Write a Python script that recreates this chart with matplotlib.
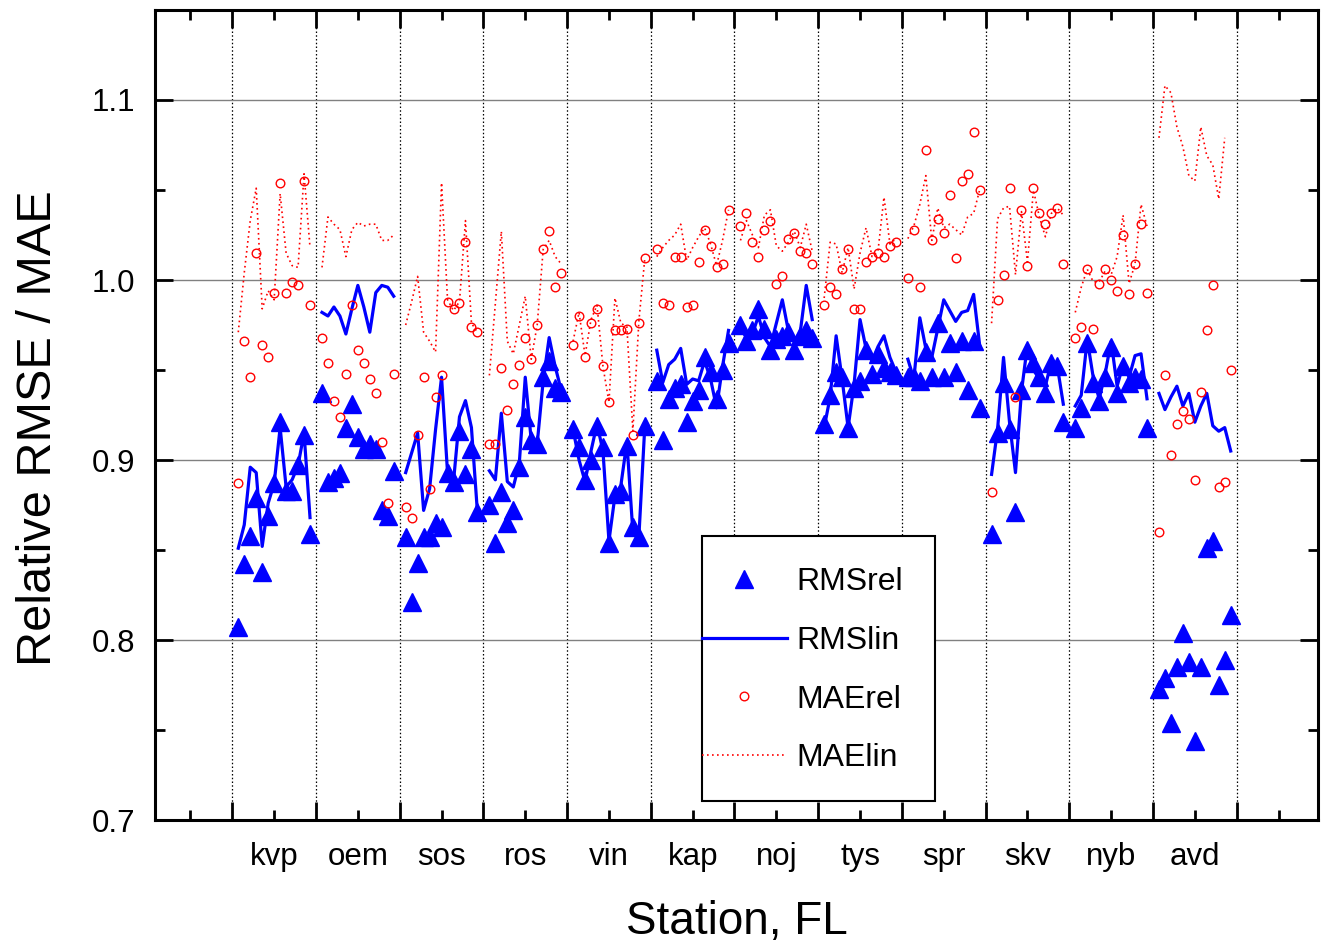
import numpy as np
import matplotlib
matplotlib.use("Agg")
import matplotlib.pyplot as plt
from matplotlib.ticker import FixedLocator, FixedFormatter, NullFormatter, MultipleLocator, FormatStrFormatter
from matplotlib.lines import Line2D
from matplotlib.patches import Rectangle

plt.rcParams['font.family'] = ['Liberation Sans', 'DejaVu Sans']

stations = ['kvp', 'oem', 'sos', 'ros', 'vin', 'kap', 'noj', 'tys', 'spr', 'skv', 'nyb', 'avd']

rms_rel = [
    [0.807, 0.842, 0.858, 0.879, 0.838, 0.869, 0.887, 0.921, 0.883, 0.883, 0.897, 0.914, 0.859],
    [0.937, 0.888, 0.890, 0.893, 0.918, 0.931, 0.913, 0.906, 0.909, 0.906, 0.872, 0.869, 0.894],
    [0.857, 0.821, 0.843, 0.857, 0.857, 0.865, 0.863, 0.893, 0.888, 0.916, 0.892, 0.906, 0.871],
    [0.875, 0.854, 0.882, 0.865, 0.872, 0.896, 0.924, 0.911, 0.909, 0.946, 0.955, 0.940, 0.938],
    [0.917, 0.907, 0.889, 0.900, 0.919, 0.907, 0.854, 0.881, 0.883, 0.908, 0.863, 0.857, 0.919],
    [0.944, 0.911, 0.934, 0.940, 0.942, 0.921, 0.933, 0.939, 0.957, 0.949, 0.934, 0.950, 0.965],
    [0.975, 0.966, 0.972, 0.984, 0.973, 0.961, 0.967, 0.969, 0.971, 0.961, 0.969, 0.972, 0.968],
    [0.920, 0.936, 0.949, 0.946, 0.918, 0.940, 0.944, 0.961, 0.948, 0.959, 0.951, 0.949, 0.947],
    [0.946, 0.946, 0.944, 0.960, 0.946, 0.976, 0.946, 0.965, 0.949, 0.966, 0.939, 0.966, 0.929],
    [0.859, 0.915, 0.943, 0.917, 0.871, 0.939, 0.961, 0.954, 0.946, 0.937, 0.954, 0.952, 0.921],
    [0.918, 0.929, 0.965, 0.943, 0.933, 0.946, 0.963, 0.937, 0.952, 0.943, 0.946, 0.945, 0.918],
    [0.773, 0.779, 0.754, 0.785, 0.804, 0.788, 0.744, 0.785, 0.851, 0.855, 0.775, 0.789, 0.814],
]

rms_lin = [
    [0.851, 0.864, 0.896, 0.893, 0.852, 0.876, 0.887, 0.918, 0.885, 0.889, 0.897, 0.915, 0.868],
    [0.982, 0.980, 0.985, 0.980, 0.970, 0.984, 0.997, 0.985, 0.971, 0.993, 0.997, 0.996, 0.991],
    [0.893, 0.904, 0.915, 0.872, 0.884, 0.917, 0.946, 0.893, 0.888, 0.924, 0.933, 0.918, 0.871],
    [0.894, 0.889, 0.926, 0.888, 0.885, 0.898, 0.946, 0.911, 0.909, 0.944, 0.968, 0.952, 0.939],
    [0.917, 0.900, 0.888, 0.905, 0.920, 0.905, 0.855, 0.880, 0.886, 0.910, 0.860, 0.857, 0.919],
    [0.961, 0.943, 0.953, 0.956, 0.962, 0.942, 0.945, 0.944, 0.955, 0.945, 0.929, 0.952, 0.972],
    [0.973, 0.968, 0.970, 0.980, 0.968, 0.963, 0.976, 0.989, 0.972, 0.966, 0.971, 0.997, 0.978],
    [0.918, 0.935, 0.969, 0.945, 0.918, 0.942, 0.978, 0.962, 0.955, 0.963, 0.969, 0.957, 0.949],
    [0.956, 0.945, 0.979, 0.962, 0.957, 0.973, 0.989, 0.983, 0.977, 0.982, 0.983, 0.992, 0.964],
    [0.892, 0.917, 0.957, 0.921, 0.893, 0.938, 0.964, 0.950, 0.945, 0.941, 0.955, 0.952, 0.931],
    [0.930, 0.936, 0.967, 0.946, 0.934, 0.948, 0.966, 0.941, 0.953, 0.946, 0.958, 0.959, 0.934],
    [0.937, 0.928, 0.935, 0.941, 0.930, 0.937, 0.921, 0.930, 0.937, 0.919, 0.916, 0.918, 0.905],
]

mae_rel = [
    [0.887, 0.966, 0.946, 1.015, 0.964, 0.957, 0.993, 1.054, 0.993, 0.999, 0.997, 1.055, 0.986],
    [0.968, 0.954, 0.933, 0.924, 0.948, 0.986, 0.961, 0.954, 0.945, 0.937, 0.910, 0.876, 0.948],
    [0.874, 0.868, 0.914, 0.946, 0.884, 0.935, 0.947, 0.988, 0.984, 0.987, 1.021, 0.974, 0.971],
    [0.909, 0.909, 0.951, 0.928, 0.942, 0.953, 0.968, 0.956, 0.975, 1.017, 1.027, 0.996, 1.004],
    [0.964, 0.980, 0.957, 0.976, 0.984, 0.952, 0.932, 0.972, 0.972, 0.973, 0.914, 0.976, 1.012],
    [1.017, 0.987, 0.986, 1.013, 1.013, 0.985, 0.986, 1.010, 1.028, 1.019, 1.007, 1.009, 1.039],
    [1.030, 1.037, 1.021, 1.013, 1.028, 1.033, 0.998, 1.002, 1.023, 1.026, 1.016, 1.015, 1.009],
    [0.986, 0.996, 0.992, 1.006, 1.017, 0.984, 0.984, 1.010, 1.013, 1.015, 1.013, 1.019, 1.021],
    [1.001, 1.028, 0.996, 1.072, 1.022, 1.034, 1.026, 1.047, 1.012, 1.055, 1.059, 1.082, 1.050],
    [0.882, 0.989, 1.003, 1.051, 0.935, 1.039, 1.008, 1.051, 1.037, 1.031, 1.037, 1.040, 1.009],
    [0.968, 0.974, 1.006, 0.973, 0.998, 1.006, 1.000, 0.994, 1.025, 0.992, 1.009, 1.031, 0.993],
    [0.860, 0.947, 0.903, 0.920, 0.927, 0.923, 0.889, 0.938, 0.972, 0.997, 0.885, 0.888, 0.950],
]

mae_lin = [
    [0.971, 1.004, 1.033, 1.051, 0.984, 0.994, 0.989, 1.048, 1.015, 1.008, 1.007, 1.059, 1.018],
    [1.007, 1.035, 1.031, 1.028, 1.013, 1.028, 1.032, 1.030, 1.031, 1.031, 1.022, 1.022, 1.025],
    [0.975, 0.988, 1.002, 0.971, 0.966, 0.960, 1.054, 0.989, 0.983, 0.988, 1.033, 0.976, 0.971],
    [0.947, 0.987, 1.027, 0.966, 0.959, 0.975, 0.991, 0.956, 0.975, 1.017, 1.022, 1.013, 1.009],
    [0.966, 0.982, 0.958, 0.978, 0.986, 0.952, 0.932, 0.990, 0.976, 0.974, 0.916, 0.977, 1.012],
    [1.013, 1.018, 1.022, 1.025, 1.031, 1.011, 1.018, 1.024, 1.029, 1.020, 1.008, 1.022, 1.039],
    [1.022, 1.033, 1.025, 1.018, 1.036, 1.039, 1.019, 1.016, 1.021, 1.027, 1.018, 1.031, 1.016],
    [0.990, 1.021, 1.020, 1.004, 1.018, 0.995, 1.015, 1.029, 1.013, 1.016, 1.046, 1.020, 1.023],
    [1.023, 1.030, 1.042, 1.058, 1.022, 1.040, 1.029, 1.031, 1.028, 1.025, 1.035, 1.037, 1.050],
    [0.976, 1.034, 1.040, 1.041, 1.003, 1.038, 1.010, 1.050, 1.035, 1.024, 1.037, 1.040, 1.036],
    [0.982, 0.996, 1.006, 0.999, 0.999, 1.005, 1.003, 1.013, 1.036, 0.998, 1.009, 1.042, 1.030],
    [1.079, 1.108, 1.104, 1.085, 1.074, 1.058, 1.055, 1.085, 1.069, 1.064, 1.045, 1.079, np.nan],
]

series_labels = ['RMSrel', 'RMSlin', 'MAErel', 'MAElin']
y_ticks = [0.7, 0.8, 0.9, 1.0, 1.1]

BLUE = '#0000ff'
RED = '#ff0000'
n_lev = 13
period = 14

W, H = 1324, 944
fig = plt.figure(figsize=(W / 100, H / 100), dpi=100)
ax = fig.add_axes([155 / W, 1 - 820 / H, (1318 - 155) / W, (820 - 10) / H])

for s in range(len(stations)):
    x = s * period + 1 + np.arange(n_lev)
    ax.plot(x, rms_rel[s], linestyle='none', marker='^', ms=13.5, color=BLUE,
            mec=BLUE, zorder=3)
    ax.plot(x, rms_lin[s], '-', color=BLUE, lw=2.3, zorder=4)
    ax.plot(x, mae_rel[s], linestyle='none', marker='o', ms=6.2, mfc='none',
            mec=RED, mew=1.0, zorder=5)
    ax.plot(x, mae_lin[s], color=RED, lw=1.2, ls=(0, (1.0, 2.0)), zorder=6)

boundaries = [period * s for s in range(len(stations) + 1)]
centers = [period * s + period / 2 for s in range(-1, len(stations) + 1)]

ax.set_xlim(-12.93, 181.6)
ax.set_ylim(0.7, 1.15)

ax.xaxis.set_major_locator(FixedLocator(boundaries))
ax.xaxis.set_major_formatter(NullFormatter())
ax.xaxis.set_minor_locator(FixedLocator(centers))
ax.xaxis.set_minor_formatter(FixedFormatter([''] + stations + ['']))
ax.yaxis.set_major_locator(FixedLocator(y_ticks))
ax.yaxis.set_major_formatter(FormatStrFormatter('%.1f'))
ax.yaxis.set_minor_locator(MultipleLocator(0.05))

ax.set_axisbelow(True)
ax.xaxis.grid(True, which='major', color='black', lw=0.9, ls=(0, (1.2, 1.8)))
ax.yaxis.grid(True, which='major', color='#808080', lw=1.0, ls='-')

ax.tick_params(which='both', direction='in', top=True, right=True, width=2.0)
ax.tick_params(which='major', length=13)
ax.tick_params(which='minor', length=7)
ax.tick_params(axis='y', which='major', labelsize=22.5, pad=14)
ax.tick_params(axis='x', which='minor', labelsize=22.5, pad=16)
for sp in ax.spines.values():
    sp.set_linewidth(2.2)

ax.set_xlabel('Station, FL', fontsize=33, labelpad=20)
ax.set_ylabel('Relative RMSE / MAE', fontsize=35, labelpad=22)
ax.yaxis.label.set_y(0.484)

handles = [
    Line2D([], [], linestyle='none', marker='^', ms=13.5, color=BLUE),
    Line2D([], [], color=BLUE, lw=2.3),
    Line2D([], [], linestyle='none', marker='o', ms=6.2, mfc='none', mec=RED, mew=1.0),
    Line2D([], [], color=RED, lw=1.2, ls=(0, (1.0, 2.0))),
]
leg = ax.legend(handles, series_labels, loc='upper left',
                bbox_to_anchor=(702 / W, 1 - 567 / H), bbox_transform=fig.transFigure,
                frameon=False, borderpad=0, handlelength=2.65, handletextpad=0.3,
                labelspacing=0.9, fontsize=23, borderaxespad=0)
leg.set_zorder(10)
box = Rectangle((702 / W, 1 - 801 / H), (935 - 702) / W, (801 - 536) / H,
                transform=fig.transFigure, facecolor='white', edgecolor='black',
                lw=1.5, zorder=9)
ax.add_artist(box)
box.set_clip_on(False)

fig.savefig('out.png', dpi=100)
